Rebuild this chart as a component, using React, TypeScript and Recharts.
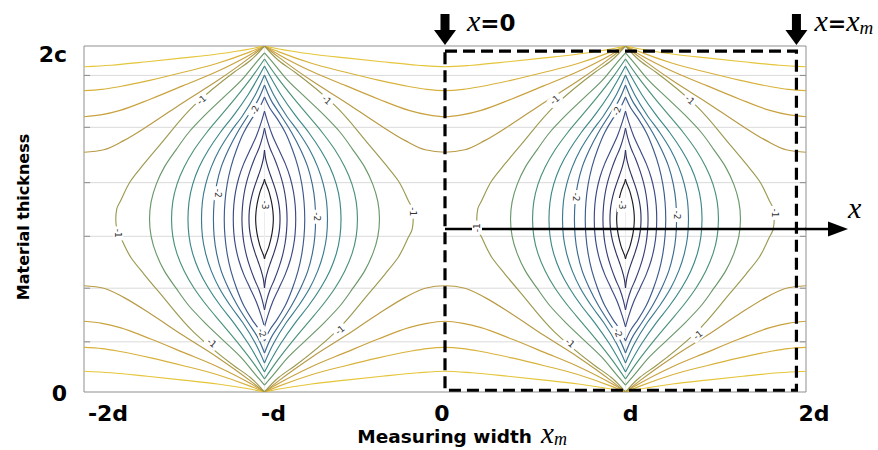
import React from "react";
import { ComposedChart, Line, XAxis, YAxis, ReferenceLine, ReferenceArea, ReferenceDot, Scatter } from "recharts";

// axis ticks (x in units of d, y in units of c)
const X_TICKS = [-2, -1, 0, 1, 2];
const X_TICK_LABELS = ["-2d", "-d", "0", "d", "2d"];
const X_TICK_SHIFT = [24, 9, -3, 5, 8];
const Y_TICKS = [0, 2];
const Y_TICK_LABELS = ["0", "2c"];
const Y_TICK_DY = [9, 16];
const GRID_Y = [0.29, 0.6, 0.9, 1.21, 1.53, 1.83];
const LOBE_CENTERS = [-1, 1];

// open contours (-0.2 .. -0.8), one quarter: u = distance from the vertex line, v = height
const OPEN_LEVELS = [-0.2, -0.4, -0.6, -0.8];
const OPEN_U = [
  [1, 0.85, 0.65, 0.45, 0.26, 0.08, 0],
  [1, 0.9, 0.8, 0.63, 0.45, 0.26, 0.08, 0],
  [1, 0.9, 0.8, 0.63, 0.45, 0.26, 0.08, 0],
  [1, 0.89, 0.78, 0.63, 0.45, 0.26, 0.08, 0],
];
const OPEN_V = [
  [1.88, 1.889, 1.909, 1.931, 1.954, 1.983, 2],
  [1.742, 1.749, 1.766, 1.803, 1.848, 1.9, 1.966, 2],
  [1.591, 1.603, 1.628, 1.694, 1.771, 1.854, 1.95, 2],
  [1.386, 1.4, 1.453, 1.549, 1.674, 1.8, 1.934, 2],
];
const OPEN_COLORS = ["#e5c53a", "#d8b23c", "#c9a23f", "#b89a45"];

// closed contours around the minimum (-1 .. -3), one quarter
const LENS_LEVELS = [-1, -1.2, -1.4, -1.6, -1.8, -2, -2.2, -2.4, -2.6, -2.8, -3];
const LENS_U = [
  [0.824, 0.818, 0.797, 0.741, 0.668, 0.575, 0.391, 0.169, 0.08, 0],
  [0.637, 0.628, 0.6, 0.555, 0.49, 0.42, 0.33, 0.23, 0.13, 0.05, 0],
  [0.515, 0.508, 0.485, 0.445, 0.39, 0.32, 0.24, 0.16, 0.07, 0],
  [0.424, 0.418, 0.398, 0.362, 0.31, 0.245, 0.17, 0.09, 0],
  [0.349, 0.344, 0.326, 0.295, 0.25, 0.19, 0.12, 0.05, 0],
  [0.283, 0.279, 0.265, 0.24, 0.2, 0.15, 0.09, 0.04, 0],
  [0.223, 0.219, 0.207, 0.186, 0.155, 0.115, 0.07, 0.03, 0],
  [0.173, 0.17, 0.16, 0.142, 0.115, 0.08, 0.045, 0.018, 0],
  [0.125, 0.122, 0.114, 0.1, 0.08, 0.055, 0.03, 0.012, 0],
  [0.086, 0.084, 0.077, 0.066, 0.051, 0.034, 0.018, 0.006, 0],
  [0.049, 0.047, 0.042, 0.034, 0.024, 0.013, 0.005, 0],
];
const LENS_V = [
  [1, 1.06, 1.106, 1.221, 1.318, 1.434, 1.655, 1.848, 1.915, 2],
  [1, 1.1, 1.2, 1.3, 1.4, 1.5, 1.6, 1.7, 1.8, 1.9, 1.96],
  [1, 1.1, 1.2, 1.3, 1.4, 1.5, 1.6, 1.7, 1.82, 1.925],
  [1, 1.1, 1.2, 1.3, 1.4, 1.5, 1.6, 1.72, 1.884],
  [1, 1.1, 1.2, 1.3, 1.4, 1.5, 1.6, 1.72, 1.832],
  [1, 1.1, 1.2, 1.3, 1.4, 1.5, 1.6, 1.68, 1.775],
  [1, 1.1, 1.2, 1.3, 1.4, 1.5, 1.58, 1.64, 1.705],
  [1, 1.08, 1.16, 1.24, 1.32, 1.4, 1.48, 1.56, 1.624],
  [1, 1.07, 1.14, 1.21, 1.28, 1.35, 1.41, 1.47, 1.526],
  [1, 1.05, 1.1, 1.15, 1.2, 1.25, 1.3, 1.35, 1.399],
  [1, 1.04, 1.08, 1.12, 1.16, 1.19, 1.21, 1.231],
];
const LENS_COLORS = ["#9b9a50", "#6a9868", "#4a9278", "#3c8888", "#3a7a90", "#3c6a90", "#3e5a8c", "#3d4a84", "#383e76", "#2e3260", "#1a1a24"];

// contour labels
const CLABELS = [
  { x: 0.609, y: 1.688, text: "-1", angle: -42 },
  { x: 1.357, y: 1.688, text: "-1", angle: 42 },
  { x: 1.828, y: 1.035, text: "-1", angle: 90 },
  { x: 0.177, y: 0.95, text: "-1", angle: -90 },
  { x: 0.693, y: 0.283, text: "-1", angle: 40 },
  { x: 1.402, y: 0.329, text: "-1", angle: -40 },
  { x: 0.953, y: 1.624, text: "-2", angle: -70 },
  { x: 0.726, y: 1.127, text: "-2", angle: 90 },
  { x: 1.285, y: 1.023, text: "-2", angle: 90 },
  { x: 0.958, y: 0.341, text: "-2", angle: 70 },
  { x: 0.98, y: 1.081, text: "-3", angle: 90 },
  { x: -1.348, y: 1.688, text: "-1", angle: -42 },
  { x: -0.655, y: 1.688, text: "-1", angle: 42 },
  { x: -1.053, y: 1.63, text: "-2", angle: -70 },
  { x: -1.256, y: 1.149, text: "-2", angle: 90 },
  { x: -1.0, y: 1.081, text: "-3", angle: 90 },
  { x: -0.711, y: 1.013, text: "-2", angle: 90 },
  { x: -0.176, y: 1.042, text: "-1", angle: 90 },
  { x: -1.81, y: 0.917, text: "-1", angle: 90 },
  { x: -1.291, y: 0.283, text: "-1", angle: 40 },
  { x: -1.014, y: 0.341, text: "-2", angle: 70 },
  { x: -0.582, y: 0.358, text: "-1", angle: -40 },
];

// measuring window and x axis arrow
const DASH_BOX_X = [0, 1.947, 1.947, 0, 0];
const DASH_BOX_Y = [1.97, 1.97, 0.01, 0.01, 1.97];
const XM = 1.947;
const AXIS_ARROW_Y = 0.942;

type Pt = { x: number; y: number };
type Piece = { key: string; color: string; curve: "monotoneX" | "monotoneY"; pts: Pt[] };

const pieces: Piece[] = [];

OPEN_LEVELS.forEach((lvl, k) => {
  const us = OPEN_U[k];
  const vs = OPEN_V[k];
  const n = us.length;
  [false, true].forEach((flip) => {
    const fy = (v: number) => (flip ? 2 - v : v);
    const left = us.map((u, i) => ({ x: -1 - u, y: fy(vs[i]) }));
    const mid: Pt[] = [];
    for (let i = n - 1; i >= 0; i--) mid.push({ x: -1 + us[i], y: fy(vs[i]) });
    for (let i = 1; i < n; i++) mid.push({ x: 1 - us[i], y: fy(vs[i]) });
    const right: Pt[] = [];
    for (let i = n - 1; i >= 0; i--) right.push({ x: 1 + us[i], y: fy(vs[i]) });
    [left, mid, right].forEach((pts, j) =>
      pieces.push({ key: `o${lvl}-${flip}-${j}`, color: OPEN_COLORS[k], curve: "monotoneX", pts })
    );
  });
});

LENS_LEVELS.forEach((lvl, k) => {
  const us = LENS_U[k];
  const vs = LENS_V[k];
  const n = us.length;
  LOBE_CENTERS.forEach((c) => {
    [-1, 1].forEach((s) => {
      const pts: Pt[] = [];
      for (let i = n - 1; i >= 1; i--) pts.push({ x: c + s * us[i], y: 2 - vs[i] });
      for (let i = 0; i < n; i++) pts.push({ x: c + s * us[i], y: vs[i] });
      pieces.push({ key: `l${lvl}-${c}-${s}`, color: LENS_COLORS[k], curve: "monotoneY", pts });
    });
  });
});

const dashBox = DASH_BOX_X.map((x, i) => ({ x, y: DASH_BOX_Y[i] }));
const axisArrow = [{ x: 0, y: AXIS_ARROW_Y }, { x: 2, y: AXIS_ARROW_Y }];

const SANS = "DejaVu Sans";
const SERIF = "Liberation Serif";

const XTick = (props: any) => {
  const { x, y, payload } = props;
  const i = X_TICKS.indexOf(payload.value);
  return (
    <text x={x + X_TICK_SHIFT[i]} y={y + 29} textAnchor="middle" fontFamily={SANS} fontWeight="bold" fontSize={22} fill="#000">
      {X_TICK_LABELS[i]}
    </text>
  );
};

const YTick = (props: any) => {
  const { x, y, payload } = props;
  const i = Y_TICKS.indexOf(payload.value);
  return (
    <text x={x - 17} y={y + Y_TICK_DY[i]} textAnchor="end" fontFamily={SANS} fontWeight="bold" fontSize={22} fill="#000">
      {Y_TICK_LABELS[i]}
    </text>
  );
};

const XTitle = (props: any) => {
  const vb = props.viewBox;
  const cx = vb.x + vb.width / 2;
  const by = vb.y + 51;
  return (
    <g>
      <text x={cx + 87} y={by} textAnchor="end" fontFamily={SANS} fontWeight="bold" fontSize={18.5} fill="#000">
        Measuring width
      </text>
      <text x={cx + 96} y={by} fontFamily={SERIF} fontStyle="italic" fontSize={29} fill="#000">
        x<tspan fontSize={18} dy={2}>m</tspan>
      </text>
    </g>
  );
};

const YTitle = (props: any) => {
  const vb = props.viewBox;
  const tx = vb.x - 15;
  const ty = 217;
  return (
    <text x={tx} y={ty} transform={`rotate(-90 ${tx} ${ty})`} textAnchor="middle" fontFamily={SANS} fontWeight="bold" fontSize={16} fill="#000">
      Material thickness
    </text>
  );
};

const ContourLabel = (props: any) => {
  const { cx, cy, payload } = props;
  if (cx == null || cy == null) return null;
  return (
    <g transform={`translate(${cx},${cy}) rotate(${payload.angle})`}>
      <rect x={-7} y={-5} width={14} height={10} fill="#fff" />
      <text x={0} y={0} textAnchor="middle" dominantBaseline="central" fontFamily={SANS} fontSize={9} fill="#333">
        {payload.text}
      </text>
    </g>
  );
};

const DownArrow = (cx: number, cy: number) => (
  <g>
    <rect x={cx - 4.5} y={cy - 32} width={9} height={17} fill="#000" />
    <polygon points={`${cx - 11},${cy - 16} ${cx + 11},${cy - 16} ${cx},${cy - 1}`} fill="#000" />
  </g>
);

const ArrowX0 = (props: any) => {
  const { cx, cy } = props;
  return (
    <g>
      {DownArrow(cx, cy)}
      <text x={cx + 22} y={cy - 15} fontFamily={SERIF} fontStyle="italic" fontSize={30} fill="#000">
        x<tspan fontFamily={SANS} fontStyle="normal" fontWeight="bold" fontSize={23}>=0</tspan>
      </text>
    </g>
  );
};

const ArrowXm = (props: any) => {
  const { cx, cy } = props;
  return (
    <g>
      {DownArrow(cx, cy)}
      <text x={cx + 18} y={cy - 15} fontFamily={SERIF} fontStyle="italic" fontSize={30} fill="#000">
        x<tspan fontFamily={SANS} fontStyle="normal" fontWeight="bold" fontSize={22}>=</tspan>x
        <tspan fontSize={19} dy={3}>m</tspan>
      </text>
    </g>
  );
};

const AxisHead = (props: any) => {
  const { cx, cy } = props;
  return (
    <g>
      <line x1={cx - 1} y1={cy} x2={cx + 24} y2={cy} stroke="#000" strokeWidth={2.5} />
      <polygon points={`${cx + 22},${cy - 7.5} ${cx + 42},${cy} ${cx + 22},${cy + 7.5}`} fill="#000" />
      <text x={cx + 42} y={cy - 11} fontFamily={SERIF} fontStyle="italic" fontSize={30} fill="#000">
        x
      </text>
    </g>
  );
};

export default function App() {
  return (
    <div style={{ position: "absolute", left: 0, top: 0, width: 878, height: 450, background: "#fff" }}>
      <ComposedChart width={878} height={450} margin={{ top: 46, right: 72, bottom: 18, left: 44 }}>
        <XAxis
          type="number"
          dataKey="x"
          domain={[-2, 2]}
          ticks={X_TICKS}
          interval={0}
          allowDataOverflow
          axisLine={false}
          tickLine={false}
          tickSize={0}
          tickMargin={0}
          height={40}
          tick={<XTick />}
          label={{ content: XTitle }}
        />
        <YAxis
          type="number"
          domain={[0, 2]}
          ticks={Y_TICKS}
          interval={0}
          allowDataOverflow
          axisLine={false}
          tickLine={false}
          tickSize={0}
          tickMargin={0}
          width={40}
          tick={<YTick />}
          label={{ content: YTitle }}
        />
        {GRID_Y.map((g) => (
          <ReferenceLine key={`g${g}`} y={g} stroke="#dadada" strokeWidth={1} />
        ))}
        {LOBE_CENTERS.map((c) => (
          <ReferenceLine key={`v${c}`} x={c} stroke="#ececec" strokeWidth={1} />
        ))}
        {GRID_Y.map((g) => (
          <ReferenceLine key={`tl${g}`} segment={[{ x: -2, y: g }, { x: -1.966, y: g }]} stroke="#8a8a8a" />
        ))}
        {GRID_Y.map((g) => (
          <ReferenceLine key={`tr${g}`} segment={[{ x: 1.966, y: g }, { x: 2, y: g }]} stroke="#8a8a8a" />
        ))}
        <ReferenceArea x1={-2} x2={2} y1={0} y2={2} fill="none" stroke="#8f8f8f" strokeWidth={1} ifOverflow="visible" />
        {pieces.map((p) => (
          <Line
            key={p.key}
            data={p.pts}
            dataKey="y"
            type={p.curve}
            stroke={p.color}
            strokeWidth={1.15}
            dot={false}
            activeDot={false}
            legendType="none"
            isAnimationActive={false}
          />
        ))}
        <Scatter data={CLABELS} dataKey="y" shape={ContourLabel} isAnimationActive={false} legendType="none" />
        <Line data={axisArrow} dataKey="y" type="linear" stroke="#000" strokeWidth={2.5} dot={false} activeDot={false} isAnimationActive={false} legendType="none" />
        <Line data={dashBox} dataKey="y" type="linear" stroke="#000" strokeWidth={3.2} strokeDasharray="12 6" dot={false} activeDot={false} isAnimationActive={false} legendType="none" />
        <ReferenceDot x={0} y={2} r={0} shape={ArrowX0} ifOverflow="visible" />
        <ReferenceDot x={XM} y={2} r={0} shape={ArrowXm} ifOverflow="visible" />
        <ReferenceDot x={2} y={AXIS_ARROW_Y} r={0} shape={AxisHead} ifOverflow="visible" />
      </ComposedChart>
    </div>
  );
}
